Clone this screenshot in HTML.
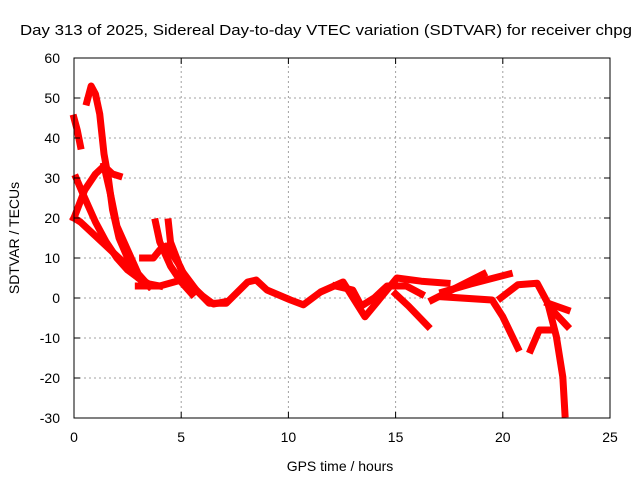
<!DOCTYPE html>
<html><head><meta charset="utf-8"><style>
body{margin:0;background:#fff}
svg{display:block}
text{font-family:"Liberation Sans",sans-serif;font-size:14px;fill:#000}
</style></head><body>
<svg id="chart" width="640" height="480" viewBox="0 0 640 480">
<rect width="640" height="480" fill="#fff"/>
<text x="326" y="35" text-anchor="middle" style="font-size:15px" textLength="612" lengthAdjust="spacingAndGlyphs">Day 313 of 2025, Sidereal Day-to-day VTEC variation (SDTVAR) for receiver chpg</text>
<g id="grid"></g>
<g id="series"></g>
<g id="axes"></g>
<text x="340" y="471" text-anchor="middle">GPS time / hours</text>
<text transform="translate(19,238) rotate(-90)" text-anchor="middle">SDTVAR / TECUs</text>
</svg>
<script>
const xTicks=[0,5,10,15,20,25];
const yTicks=[-30,-20,-10,0,10,20,30,40,50,60];
const trackA=[[0.6,49],[0.8,53],[1.0,51],[1.2,46],[1.4,36],[1.6,30],[1.8,22],[2.1,15],[2.5,10],[3,5],[3.5,3]];
const trackB=[[0,20],[0.5,27],[1,31],[1.4,33],[1.8,31],[2.1,30.5]];
const trackB2=[[1.4,33],[1.7,26],[2,18],[2.5,12],[3,6],[3.5,3]];
const trackC=[[0.1,30],[0.5,25],[1,19],[1.5,14],[2,10],[2.5,7],[3,5],[3.5,3.5],[4,3]];
const trackD=[[0,20],[0.3,19],[0.7,17],[1.5,13],[2.5,8],[3,5],[3.5,3]];
const trackE=[[0,45],[0.15,42],[0.3,38]];
const trackF=[[3.2,10],[3.7,10],[4,12],[4.3,13],[4.7,10],[4.94,8],[5.2,5],[5.7,2],[6.3,-1.3],[7.1,-1.3],[8.1,4],[8.5,4.5],[9,2],[10.1,-0.5],[10.7,-1.7],[11.5,1.5],[12.55,4],[13.57,-4.7],[15.06,5],[16.2,4.2],[17.4,3.7]];
const trackG=[[3.8,19],[4,14],[4.5,8],[5,4],[5.5,1]];
const trackH=[[4.4,19],[4.5,14],[5,7],[5.7,2]];
const trackI=[[3,3],[4,3],[5,4.5],[5.5,3],[6,0.5],[6.5,-1.5],[7,-1]];
const trackJ=[[15,1],[15.6,-2],[16.5,-7]];
const trackK=[[16.7,-0.5],[17.8,2.5],[19.1,6]];
const trackL=[[17.2,1.5],[18.5,3.5],[20.3,6]];
const trackM=[[17.2,0.3],[19.5,-0.5],[20,-4.7],[20.7,-12.5]];
const trackN=[[19.9,0],[20.7,3.3],[21.6,3.7],[22.1,-1.3],[22.5,-9.7],[22.8,-19.8],[22.9,-29]];
const trackO=[[22.1,-1.3],[23,-3]];
const trackP=[[22.3,-3],[23,-7]];
const trackQ=[[21.3,-13],[21.7,-8],[22.2,-8]];
const trackR=[[12.2,3],[13,2],[13.4,-2],[14,0],[14.6,3],[15.5,3],[16.2,1]];
const tracks=[trackA,trackB,trackB2,trackC,trackD,trackE,trackF,trackG,trackH,trackI,trackJ,trackK,trackL,trackM,trackN,trackO,trackP,trackQ,trackR];
const X0=74,X1=610,Y0=418,Y1=58,xMin=0,xMax=25,yMin=-30,yMax=60;
const sx=v=>X0+(v-xMin)/(xMax-xMin)*(X1-X0);
const sy=v=>Y0-(v-yMin)/(yMax-yMin)*(Y0-Y1);
const NS='http://www.w3.org/2000/svg';
const grid=document.getElementById('grid'),axes=document.getElementById('axes'),series=document.getElementById('series');
function mk(tag,attrs,parent){const e=document.createElementNS(NS,tag);for(const k in attrs)e.setAttribute(k,attrs[k]);parent.appendChild(e);return e;}
xTicks.forEach(t=>{const x=sx(t);
 if(t>xMin&&t<xMax){const g=mk('line',{x1:x,y1:Y0,x2:x,y2:Y1,stroke:'#a0a0a0','stroke-dasharray':'2,3'},grid);
 
 }
 const tk=mk('line',{x1:x,y1:Y0,x2:x,y2:Y0-6,stroke:'#000'},axes);
 
 
 const tk2=mk('line',{x1:x,y1:Y1,x2:x,y2:Y1+6,stroke:'#000'},axes);
 
 
 const l=mk('text',{x:x,y:Y0+24,'text-anchor':'middle'},axes);l.textContent=t;
 
 });
yTicks.forEach(t=>{const y=sy(t);
 if(t>yMin&&t<yMax){const g=mk('line',{x1:X0,y1:y,x2:X1,y2:y,stroke:'#a0a0a0','stroke-dasharray':'2,3'},grid);
 
 }
 const tk=mk('line',{x1:X0,y1:y,x2:X0+6,y2:y,stroke:'#000'},axes);
 
 
 const tk2=mk('line',{x1:X1,y1:y,x2:X1-6,y2:y,stroke:'#000'},axes);
 
 
 const l=mk('text',{x:X0-14,y:y+5,'text-anchor':'end'},axes);l.textContent=t;
 
 });
const fr=mk('rect',{x:X0,y:Y1,width:X1-X0,height:Y0-Y1,fill:'none',stroke:'#000'},axes);


tracks.forEach(tr=>{const p=mk('polyline',{points:tr.map(d=>sx(d[0])+','+sy(d[1])).join(' '),fill:'none',stroke:'#ff0000','stroke-width':7,'stroke-linejoin':'round','stroke-linecap':'square'},series);
 
 });
</script>
</body></html>
